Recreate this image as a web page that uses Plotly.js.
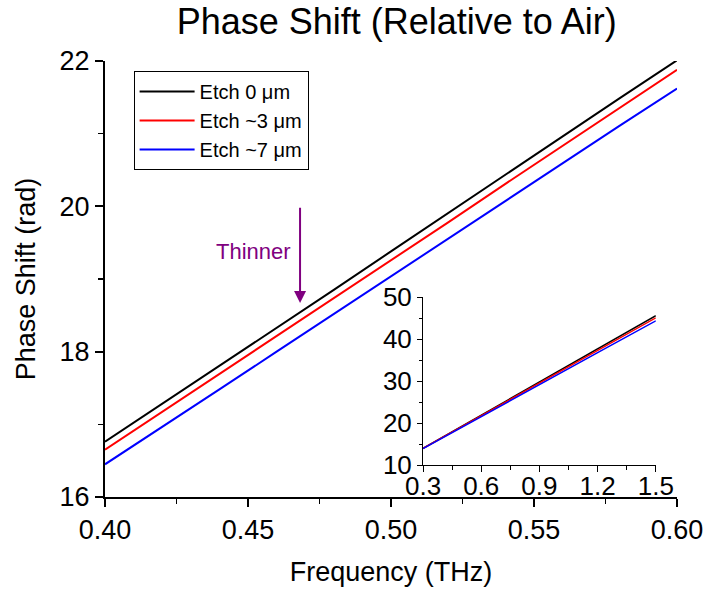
<!DOCTYPE html>
<html>
<head>
<meta charset="utf-8">
<script src="https://cdn.plot.ly/plotly-3.0.1.min.js"></script>
<style>html,body{margin:0;padding:0;background:#fff;}#chart{width:706px;height:590px;}</style>
</head>
<body>
<div id="chart"></div>
<script>
// Main plot data
const freq = [0.40, 0.42, 0.44, 0.46, 0.48, 0.50, 0.52, 0.54, 0.56, 0.58, 0.60];
const etch0 = [16.76, 17.28, 17.80, 18.32, 18.85, 19.38, 19.91, 20.44, 20.96, 21.49, 22.01];
const etch3 = [16.65, 17.17, 17.69, 18.21, 18.73, 19.26, 19.78, 20.31, 20.83, 21.36, 21.88];
const etch7 = [16.45, 16.96, 17.48, 18.00, 18.52, 19.04, 19.56, 20.08, 20.59, 21.11, 21.62];
// Inset data
const freqInset = [0.3, 0.6, 0.9, 1.2, 1.5];
const inset0 = [14.0, 21.9, 29.8, 37.7, 45.6];
const inset3 = [14.0, 21.8, 29.6, 37.4, 45.1];
const inset7 = [13.9, 21.6, 29.2, 36.8, 44.4];
const names = ['Etch 0 μm', 'Etch ~3 μm', 'Etch ~7 μm'];
const colors = ['#000000', '#ff0000', '#0000ff'];

const FONT = 'Arial, "Liberation Sans", sans-serif';
const mainY = [etch0, etch3, etch7];
const insetY = [inset0, inset3, inset7];
const traces = [];
mainY.forEach((ys, i) => traces.push({
  x: freq, y: ys, type: 'scatter', mode: 'lines', name: names[i],
  line: {color: colors[i], width: 2}, xaxis: 'x', yaxis: 'y'
}));
insetY.forEach((ys, i) => traces.push({
  x: freqInset, y: ys, type: 'scatter', mode: 'lines', name: names[i],
  line: {color: colors[i], width: 1.5}, xaxis: 'x2', yaxis: 'y2', showlegend: false
}));

const layout = {
  width: 706, height: 590,
  margin: {l: 105, r: 29, t: 61, b: 93},
  paper_bgcolor: '#fff', plot_bgcolor: '#fff',
  font: {family: FONT, color: '#000'},
  title: {text: 'Phase Shift (Relative to Air)', font: {size: 36, family: FONT},
          x: 0.562, xref: 'container', xanchor: 'center', y: 0.963, yref: 'container', yanchor: 'middle'},
  showlegend: true,
  legend: {x: 0.05, y: 0.977, xanchor: 'left', yanchor: 'top', bordercolor: '#000', borderwidth: 1,
           bgcolor: '#fff', font: {size: 20, family: FONT}, tracegroupgap: 0, itemwidth: 55},
  xaxis: {
    domain: [0, 1], range: [0.4, 0.6], dtick: 0.05, tick0: 0.4, tickformat: '.2f',
    showgrid: false, zeroline: false, showline: true, linecolor: '#000', linewidth: 2,
    ticks: 'outside', ticklen: 8, tickwidth: 2, tickcolor: '#000',
    minor: {dtick: 0.025, ticks: 'outside', ticklen: 5, tickwidth: 1.5, tickcolor: '#000', showgrid: false},
    tickfont: {size: 27, family: FONT},
    title: {text: 'Frequency (THz)', font: {size: 27, family: FONT}, standoff: 18}
  },
  yaxis: {
    domain: [0, 1], range: [16, 22], dtick: 2, tick0: 16,
    showgrid: false, zeroline: false, showline: true, linecolor: '#000', linewidth: 2,
    ticks: 'outside', ticklen: 8, tickwidth: 2, tickcolor: '#000',
    minor: {dtick: 1, ticks: 'outside', ticklen: 5, tickwidth: 1.5, tickcolor: '#000', showgrid: false},
    tickfont: {size: 27, family: FONT},
    title: {text: 'Phase Shift (rad)', font: {size: 27, family: FONT}, standoff: 16}
  },
  xaxis2: {
    domain: [0.556, 0.963], anchor: 'y2', range: [0.3, 1.5], dtick: 0.3, tick0: 0.3, tickformat: '.1f',
    showgrid: false, zeroline: false, showline: true, linecolor: '#000', linewidth: 1,
    ticks: 'outside', ticklen: 6, tickwidth: 1, tickcolor: '#000',
    minor: {dtick: 0.15, ticks: 'outside', ticklen: 4, tickwidth: 1, tickcolor: '#000', showgrid: false},
    tickfont: {size: 26, family: FONT}, ticklabelstandoff: -8
  },
  yaxis2: {
    domain: [0.0734, 0.458], anchor: 'x2', range: [10, 50], dtick: 10, tick0: 10,
    showgrid: false, zeroline: false, showline: true, linecolor: '#000', linewidth: 1,
    ticks: 'outside', ticklen: 5, tickwidth: 1, tickcolor: '#000',
    minor: {dtick: 5, ticks: 'outside', ticklen: 3, tickwidth: 1, tickcolor: '#000', showgrid: false},
    tickfont: {size: 26, family: FONT}
  },
  annotations: [
    {x: 0.4682, y: 18.67, xref: 'x', yref: 'y', ax: 0.4682, ay: 20.0, axref: 'x', ayref: 'y',
     text: '', showarrow: true, arrowcolor: '#800080', arrowwidth: 2, arrowhead: 2, arrowsize: 1.2},
    {x: 0.4658, y: 19.38, xref: 'x', yref: 'y', text: 'Thinner', showarrow: false,
     xanchor: 'right', yanchor: 'middle', font: {size: 22, color: '#800080', family: FONT}}
  ]
};

Plotly.newPlot('chart', traces, layout, {displayModeBar: false, staticPlot: true});
</script>
</body>
</html>
